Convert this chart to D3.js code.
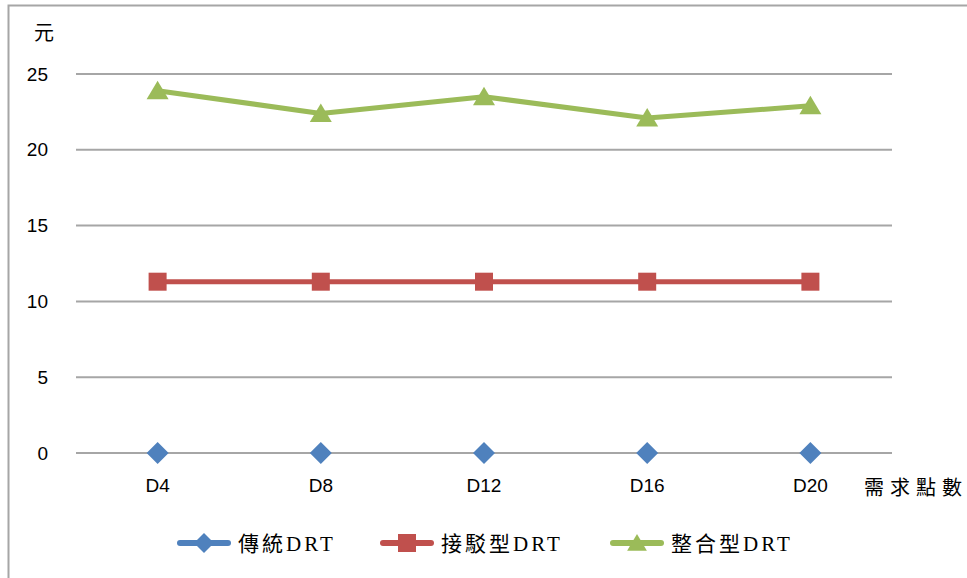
<!DOCTYPE html>
<html>
<head>
<meta charset="utf-8">
<script src="https://cdn.jsdelivr.net/npm/d3@7/dist/d3.min.js"></script>
<style>
  html, body { margin: 0; padding: 0; background: #fff; }
  svg { display: block; }
</style>
</head>
<body>
<svg id="chart" width="967" height="578"></svg>
<script>
// Cost per demand-point count for three DRT configurations
const categories = ["D4", "D8", "D12", "D16", "D20"];
const traditional = [0, 0, 0, 0, 0];
const transfer = [11.3, 11.3, 11.3, 11.3, 11.3];
const integrated = [23.9, 22.4, 23.5, 22.1, 22.9];
const seriesNames = ["傳統DRT", "接駁型DRT", "整合型DRT"];
const yTicks = [0, 5, 10, 15, 20, 25];

const series = [
  { name: seriesNames[0], values: traditional, color: "#4f81bd", shape: "diamond" },
  { name: seriesNames[1], values: transfer, color: "#c0504d", shape: "square" },
  { name: seriesNames[2], values: integrated, color: "#9bbb59", shape: "triangle" }
];

const svg = d3.select("#chart");
const plotLeft = 76, plotRight = 892;

// outer frame (top and left edges visible)
svg.append("path")
  .attr("d", "M8.5,578 L8.5,5.5 L967,5.5")
  .attr("fill", "none").attr("stroke", "#a6a6a6").attr("stroke-width", 2);

const x = d3.scaleBand().domain(categories).range([plotLeft, plotRight]);
const y = d3.scaleLinear().domain([0, 25]).range([453, 74]);
const cx = d => x(d) + x.bandwidth() / 2;

function marker(sel, shape, color, s) {
  if (shape === "diamond") {
    sel.append("path").attr("d", `M0,${-s} L${s},0 L0,${s} L${-s},0 Z`).attr("fill", color);
  } else if (shape === "square") {
    sel.append("rect").attr("x", -s).attr("y", -s).attr("width", 2 * s).attr("height", 2 * s).attr("fill", color);
  } else {
    sel.append("path").attr("d", `M0,${-s} L${s * 1.1},${s * 0.85} L${-s * 1.1},${s * 0.85} Z`).attr("fill", color);
  }
}

// gridlines (the zero rule sits on top of any series lying on the axis)
svg.append("g").selectAll("line").data(yTicks).join("line")
  .attr("x1", plotLeft).attr("x2", plotRight)
  .attr("y1", d => y(d)).attr("y2", d => y(d))
  .attr("stroke", "#a6a6a6").attr("stroke-width", 2);

const line = d3.line().x((d, i) => cx(categories[i])).y(d => y(d));

// connecting lines for series above the baseline
series.filter(s => d3.max(s.values) > 0).forEach(s => {
  svg.append("path").datum(s.values)
    .attr("d", line).attr("fill", "none")
    .attr("stroke", s.color).attr("stroke-width", 5)
    .attr("stroke-linejoin", "round");
});

// markers
series.forEach(s => {
  s.values.forEach((v, i) => {
    const g = svg.append("g").attr("transform", `translate(${cx(categories[i])},${y(v)})`);
    marker(g, s.shape, s.color, s.shape === "square" ? 9 : (s.shape === "diamond" ? 11 : 10));
  });
});

// y axis labels
const yAxis = d3.axisLeft(y).tickValues(yTicks).tickSize(0).tickPadding(0);
const yg = svg.append("g").attr("transform", "translate(48,0)").call(yAxis);
yg.select(".domain").remove();
yg.selectAll("text")
  .attr("font-family", "Arial, 'Liberation Sans', sans-serif")
  .attr("font-size", 19).attr("fill", "#000");

// x axis labels
const xAxis = d3.axisBottom(x).tickSize(0).tickPadding(0);
const xg = svg.append("g").attr("transform", "translate(0,478)").call(xAxis);
xg.select(".domain").remove();
xg.selectAll("text")
  .attr("font-family", "Arial, 'Liberation Sans', sans-serif")
  .attr("font-size", 19).attr("fill", "#000");

// axis titles
svg.append("text").attr("x", 44).attr("y", 40).attr("text-anchor", "middle")
  .attr("font-family", "'Noto Sans CJK TC', sans-serif").attr("font-size", 20)
  .text("元");
svg.append("text").attr("x", 864).attr("y", 495)
  .attr("font-family", "'Noto Sans CJK TC', serif").attr("font-size", 20)
  .attr("letter-spacing", 6)
  .text("需求點數");

// legend
const legendX = [180, 383, 613];
series.forEach((s, i) => {
  const lx = legendX[i], ly = 543;
  svg.append("line").attr("x1", lx).attr("x2", lx + 48).attr("y1", ly).attr("y2", ly)
    .attr("stroke", s.color).attr("stroke-width", 6).attr("stroke-linecap", "round");
  const g = svg.append("g").attr("transform", `translate(${lx + 24},${ly})`);
  marker(g, s.shape, s.color, s.shape === "square" ? 9 : (s.shape === "diamond" ? 10 : 9));
  svg.append("text").attr("x", lx + 58).attr("y", ly + 8)
    .attr("font-family", "'Liberation Serif', 'Noto Sans CJK TC', serif")
    .attr("font-size", 21).attr("letter-spacing", 3).attr("fill", "#000")
    .text(s.name);
});
</script>
</body>
</html>
